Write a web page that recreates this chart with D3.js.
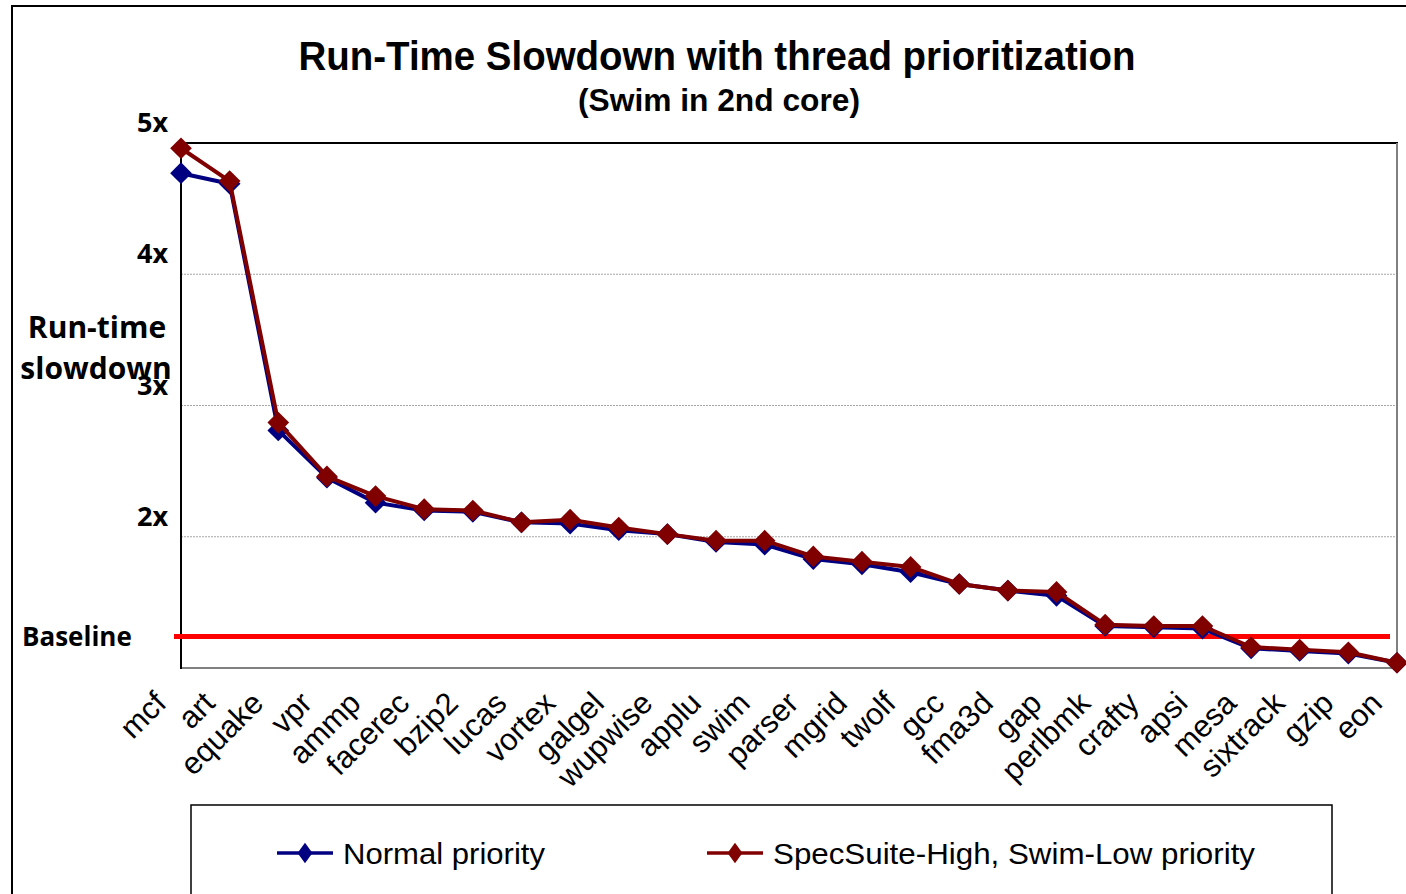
<!DOCTYPE html>
<html>
<head>
<meta charset="utf-8">
<script src="https://cdn.jsdelivr.net/npm/d3@7"></script>
<style>
  html, body { margin: 0; padding: 0; background: #fff; }
  svg { display: block; }
</style>
</head>
<body>
<svg id="chart" width="1406" height="894"></svg>
<script>
// Benchmarks, ordered by slowdown
const categories = ["mcf", "art", "equake", "vpr", "ammp", "facerec", "bzip2", "lucas", "vortex",
  "galgel", "wupwise", "applu", "swim", "parser", "mgrid", "twolf", "gcc", "fma3d", "gap",
  "perlbmk", "crafty", "apsi", "mesa", "sixtrack", "gzip", "eon"];

// Run-time slowdown, normal priority
const normalPriority = [4.77, 4.69, 2.81, 2.45, 2.26, 2.20, 2.19, 2.11, 2.10, 2.05, 2.02, 1.96,
  1.94, 1.83, 1.79, 1.73, 1.64, 1.59, 1.55, 1.32, 1.31, 1.30, 1.15, 1.13, 1.11, 1.04];

// Run-time slowdown, SpecSuite high / Swim low priority
const specHighPriority = [4.96, 4.71, 2.87, 2.46, 2.31, 2.21, 2.20, 2.11, 2.13, 2.07, 2.02, 1.97,
  1.97, 1.85, 1.81, 1.77, 1.64, 1.59, 1.58, 1.33, 1.32, 1.32, 1.16, 1.14, 1.12, 1.04];

const baselineValue = 1.24;
const yTicks = [5, 4, 3, 2];
const yTickLabels = ["5x", "4x", "3x", "2x"];
const gridValues = [4, 3, 2];
const seriesNames = ["Normal priority", "SpecSuite-High, Swim-Low priority"];
const seriesColors = ["#000080", "#800000"];

const svg = d3.select("#chart");

// Outer chart frame
svg.append("rect")
  .attr("x", 12).attr("y", 6).attr("width", 1410).attr("height", 910)
  .attr("fill", "#fff").attr("stroke", "#000").attr("stroke-width", 2);

const plot = { left: 181, right: 1397, top: 143, bottom: 668 };

const x = d3.scalePoint().domain(categories).range([plot.left, plot.right]).padding(0);
const y = d3.scaleLinear().domain([1, 5]).range([plot.bottom, plot.top]);

// Gridlines
svg.append("g").selectAll("line").data(gridValues).join("line")
  .attr("x1", plot.left).attr("x2", plot.right)
  .attr("y1", d => y(d)).attr("y2", d => y(d))
  .attr("stroke", "#a6a6a6").attr("stroke-width", 1.2).attr("stroke-dasharray", "2,1");

// Plot area borders
svg.append("line").attr("x1", plot.left).attr("x2", plot.right + 1)
  .attr("y1", plot.top).attr("y2", plot.top).attr("stroke", "#000").attr("stroke-width", 2);
svg.append("line").attr("x1", plot.right).attr("x2", plot.right)
  .attr("y1", plot.top).attr("y2", plot.bottom).attr("stroke", "#808080").attr("stroke-width", 2);
svg.append("line").attr("x1", plot.left).attr("x2", plot.right)
  .attr("y1", plot.bottom).attr("y2", plot.bottom).attr("stroke", "#808080").attr("stroke-width", 2);
svg.append("line").attr("x1", plot.left).attr("x2", plot.left)
  .attr("y1", plot.top).attr("y2", plot.bottom + 1).attr("stroke", "#000").attr("stroke-width", 2);

// Y tick labels
svg.append("g").selectAll("text").data(yTicks).join("text")
  .attr("x", 168).attr("y", d => y(d) - 11)
  .attr("text-anchor", "end")
  .attr("font-family", "'Open Sans', 'DejaVu Sans', sans-serif")
  .attr("font-weight", 700).attr("font-size", 27)
  .text((d, i) => yTickLabels[i]);

// Y axis title
const yTitle = svg.append("text")
  .attr("font-family", "'Open Sans', 'DejaVu Sans', sans-serif")
  .attr("font-weight", 700).attr("font-size", 30).attr("text-anchor", "middle");
yTitle.append("tspan").attr("x", 97).attr("y", 338).text("Run-time");
yTitle.append("tspan").attr("x", 96).attr("y", 379).text("slowdown");

// Baseline marker
svg.append("line")
  .attr("x1", plot.left - 7).attr("x2", plot.right - 7)
  .attr("y1", y(baselineValue)).attr("y2", y(baselineValue))
  .attr("stroke", "#ff0000").attr("stroke-width", 5);
svg.append("text").attr("x", 22).attr("y", y(baselineValue) + 9)
  .attr("font-family", "'Open Sans', 'DejaVu Sans', sans-serif")
  .attr("font-weight", 700).attr("font-size", 26).text("Baseline");

// X category labels
svg.append("g").selectAll("text").data(categories).join("text")
  .attr("transform", d => `translate(${x(d) - 13},${705}) rotate(-45)`)
  .attr("text-anchor", "end")
  .attr("font-family", "'Liberation Sans', Arial, sans-serif")
  .attr("font-size", 31)
  .text(d => d);

// Series lines and diamond markers
const line = d3.line().x((d, i) => x(categories[i])).y(d => y(d));
const diamond = d3.symbol().type(d3.symbolDiamond2).size(300);

[normalPriority, specHighPriority].forEach((vals, si) => {
  const g = svg.append("g");
  g.append("path").datum(vals)
    .attr("d", line).attr("fill", "none")
    .attr("stroke", seriesColors[si]).attr("stroke-width", 4)
    .attr("stroke-linejoin", "round");
  g.selectAll("path.m").data(vals).join("path").attr("class", "m")
    .attr("d", diamond)
    .attr("transform", (d, i) => `translate(${x(categories[i])},${y(d)})`)
    .attr("fill", seriesColors[si]);
});

// Title
svg.append("text").attr("x", 717).attr("y", 70)
  .attr("text-anchor", "middle")
  .attr("font-family", "'Liberation Sans', Arial, sans-serif")
  .attr("font-weight", 700).attr("font-size", 40)
  .attr("textLength", 837).attr("lengthAdjust", "spacingAndGlyphs")
  .text("Run-Time Slowdown with thread prioritization");
svg.append("text").attr("x", 719).attr("y", 111)
  .attr("text-anchor", "middle")
  .attr("font-family", "'Liberation Sans', Arial, sans-serif")
  .attr("font-weight", 700).attr("font-size", 31)
  .attr("textLength", 282).attr("lengthAdjust", "spacingAndGlyphs")
  .text("(Swim in 2nd core)");

// Legend
svg.append("rect").attr("x", 191).attr("y", 805).attr("width", 1141).attr("height", 120)
  .attr("fill", "#fff").attr("stroke", "#000").attr("stroke-width", 1.5);

const legendItems = [
  { x0: 277, tx: 343, tl: 202 },
  { x0: 707, tx: 773, tl: 482 }
];
const legendDiamond = d3.symbol().type(d3.symbolDiamond2).size(220);
legendItems.forEach((it, i) => {
  const g = svg.append("g");
  g.append("line").attr("x1", it.x0).attr("x2", it.x0 + 56)
    .attr("y1", 853).attr("y2", 853)
    .attr("stroke", seriesColors[i]).attr("stroke-width", 3.5);
  g.append("path").attr("d", legendDiamond)
    .attr("transform", `translate(${it.x0 + 28},853) scale(0.8,1.1)`)
    .attr("fill", seriesColors[i]);
  g.append("text").attr("x", it.tx).attr("y", 864)
    .attr("font-family", "'Liberation Sans', Arial, sans-serif")
    .attr("font-size", 29)
    .attr("textLength", it.tl).attr("lengthAdjust", "spacingAndGlyphs")
    .text(seriesNames[i]);
});
</script>
</body>
</html>
